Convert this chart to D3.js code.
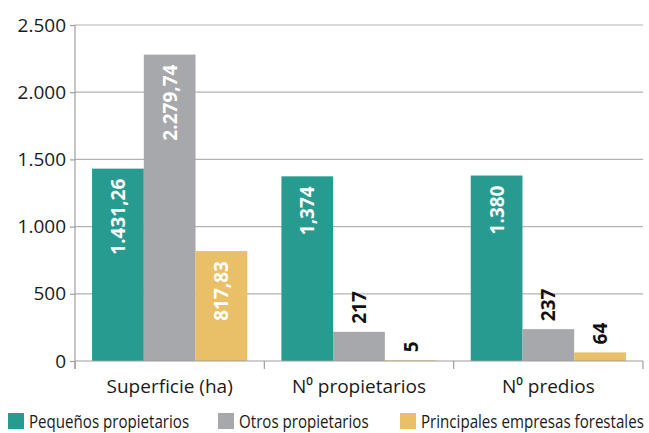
<!DOCTYPE html>
<html>
<head>
<meta charset="utf-8">
<script src="https://cdn.jsdelivr.net/npm/d3@7"></script>
<style>
  body { margin: 0; background: #fff; }
  svg text { font-family: "Open Sans", "Noto Sans", sans-serif; }
</style>
</head>
<body>
<svg id="chart" width="649" height="433"></svg>
<script>
const categories = ["Superficie (ha)", "N\u2070 propietarios", "N\u2070 predios"];
const seriesNames = ["Pequeños propietarios", "Otros propietarios", "Principales empresas forestales"];
const pequenos = [1431.26, 1374, 1380];
const otros = [2279.74, 217, 237];
const empresas = [817.83, 5, 64];
// labels as printed in the source (inconsistent separators kept)
const pequenosLabels = ["1.431,26", "1,374", "1.380"];
const otrosLabels = ["2.279,74", "217", "237"];
const empresasLabels = ["817,83", "5", "64"];
const yTicks = [0, 500, 1000, 1500, 2000, 2500];

const colors = ["#279b8f", "#a7a8ab", "#e9bf68"];
const seriesValues = [pequenos, otros, empresas];
const seriesLabels = [pequenosLabels, otrosLabels, empresasLabels];

const margin = {top: 25, right: 6, bottom: 72, left: 75};
const width = 649, height = 433;
const innerH = height - margin.top - margin.bottom;
const innerW = width - margin.left - margin.right;

const locale = d3.formatLocale({decimal: ",", thousands: ".", grouping: [3], currency: ["", ""]});
const fmt = locale.format(",d");

const svg = d3.select("#chart");
const g = svg.append("g").attr("transform", `translate(${margin.left},${margin.top})`);

const x0 = d3.scaleBand().domain(categories).range([0, innerW]).paddingInner(0).paddingOuter(0);
const x1 = d3.scaleBand().domain(d3.range(3)).range([0, x0.bandwidth()]).paddingInner(0).paddingOuter(0.33);
const y = d3.scaleLinear().domain([0, 2500]).range([innerH, 0]);

// gridlines
g.append("g")
  .selectAll("line")
  .data(yTicks.filter(d => d > 0))
  .join("line")
  .attr("x1", 0).attr("x2", innerW)
  .attr("y1", d => y(d)).attr("y2", d => y(d))
  .attr("stroke", "#b3b3b3").attr("stroke-width", 1.2);

// y axis
const yAxis = g.append("g")
  .call(d3.axisLeft(y).tickValues(yTicks).tickFormat(fmt).tickSize(5).tickPadding(4));
yAxis.select(".domain").attr("stroke", "#9e9e9e").attr("stroke-width", 1.2);
yAxis.selectAll(".tick line").attr("stroke", "#9e9e9e").attr("stroke-width", 1.2);
yAxis.selectAll("text").attr("font-size", 19).attr("fill", "#1a1a1a")
  .style("font-family", "'Open Sans', sans-serif");
yAxis.select(".domain").attr("d", `M0,0V${innerH + 8}`);

// bars
const groups = g.append("g")
  .selectAll("g")
  .data(categories)
  .join("g")
  .attr("transform", d => `translate(${x0(d)},0)`);

groups.each(function(cat, ci) {
  const sel = d3.select(this);
  seriesValues.forEach((vals, si) => {
    const v = vals[ci];
    const bx = x1(si), bw = x1.bandwidth();
    sel.append("rect")
      .attr("x", bx).attr("width", bw)
      .attr("y", y(v)).attr("height", innerH - y(v))
      .attr("fill", colors[si]);
    const inside = (innerH - y(v)) > 100;
    sel.append("text")
      .attr("transform", `translate(${bx + bw / 2},${inside ? y(v) + 10 : y(v) - 8}) rotate(-90)`)
      .attr("text-anchor", inside ? "end" : "start")
      .attr("dominant-baseline", "central")
      .attr("font-size", 19)
      .attr("font-weight", "bold")
      .attr("fill", inside ? "#ffffff" : "#111111")
      .text(seriesLabels[si][ci]);
  });
});

// x axis
g.append("line")
  .attr("x1", 0).attr("x2", innerW)
  .attr("y1", innerH).attr("y2", innerH)
  .attr("stroke", "#9e9e9e").attr("stroke-width", 1.2);
const bounds = categories.map(c => x0(c)).concat([innerW]);
g.append("g").selectAll("line")
  .data(bounds)
  .join("line")
  .attr("x1", d => d).attr("x2", d => d)
  .attr("y1", innerH).attr("y2", innerH + 8)
  .attr("stroke", "#9e9e9e").attr("stroke-width", 1.2);
g.append("g").selectAll("text")
  .data(categories)
  .join("text")
  .attr("x", d => x0(d) + x0.bandwidth() / 2)
  .attr("y", innerH + 32)
  .attr("text-anchor", "middle")
  .attr("font-size", 19)
  .attr("fill", "#1a1a1a")
  .text(d => d);

// legend (text squeezed horizontally, the source font is condensed)
const legendX = [8, 218, 400];
const legend = svg.append("g").selectAll("g")
  .data(seriesNames)
  .join("g")
  .attr("transform", (d, i) => `translate(${legendX[i]},413)`);
legend.append("rect")
  .attr("width", 16).attr("height", 16)
  .attr("fill", (d, i) => colors[i]);
legend.append("text")
  .attr("transform", "translate(21,15) scale(0.84,1)")
  .attr("font-size", 18)
  .attr("fill", "#1a1a1a")
  .text(d => d);
</script>
</body>
</html>
